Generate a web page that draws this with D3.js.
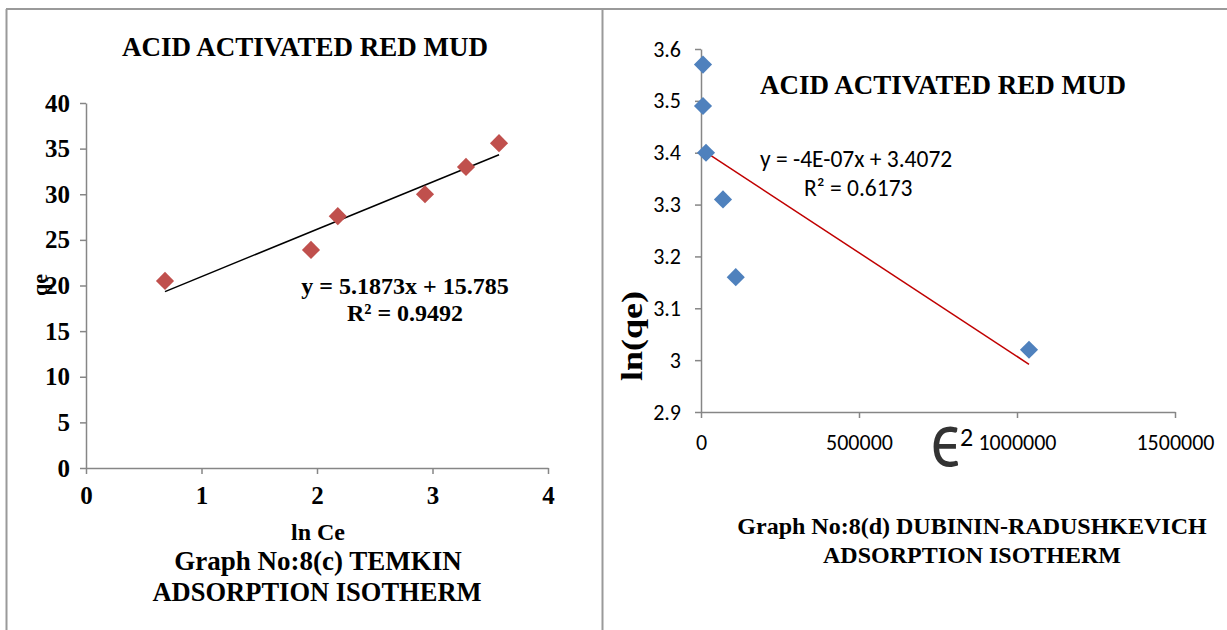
<!DOCTYPE html>
<html><head><meta charset="utf-8">
<script src="https://cdn.jsdelivr.net/npm/d3@7"></script>
<style>
body{margin:0;background:#fff;}
svg{display:block;}
.serif{font-family:"Liberation Serif","Times New Roman",serif;font-weight:bold;fill:#000;}
.sans{font-family:Carlito,Lato,"Open Sans",sans-serif;fill:#000;}
</style></head><body>
<svg id="c" width="1227" height="630"></svg>
<script>
// Left chart: Temkin
const temkinLnCe = [0.684, 1.948, 2.18, 2.935, 3.29, 3.576];
const temkinQe   = [20.5, 23.9, 27.6, 30.0, 33.0, 35.6];
const temkinXTicks = [0, 1, 2, 3, 4];
const temkinYTicks = [0, 5, 10, 15, 20, 25, 30, 35, 40];
const temkinSlope = 5.1873, temkinIntercept = 15.785;

// Right chart: Dubinin-Radushkevich
const drEps2 = [6300, 6300, 15800, 69600, 110000, 1038000];
const drLnQe = [3.57, 3.49, 3.40, 3.31, 3.16, 3.02];
const drXTicks = [0, 500000, 1000000, 1500000];
const drYTicks = [2.9, 3.0, 3.1, 3.2, 3.3, 3.4, 3.5, 3.6];
const drSlope = -4e-7, drIntercept = 3.4072;

const svg = d3.select("#c");
const axisCol = "#868686";

// panel borders
svg.append("line").attr("x1",6).attr("x2",1227).attr("y1",9).attr("y2",9).attr("stroke","#9a9a9a").attr("stroke-width",2);
svg.append("line").attr("x1",6.5).attr("x2",6.5).attr("y1",9).attr("y2",630).attr("stroke","#9a9a9a").attr("stroke-width",2);
svg.append("line").attr("x1",602.5).attr("x2",602.5).attr("y1",9).attr("y2",630).attr("stroke","#9a9a9a").attr("stroke-width",2);

function diamond(g, pts, color, size){
  g.selectAll("path.pt").data(pts).enter().append("path")
   .attr("class","pt")
   .attr("d", d3.symbol().type(d3.symbolDiamond2 || d3.symbolDiamond).size(size))
   .attr("transform", d=>`translate(${d[0]},${d[1]})`)
   .attr("fill", color);
}

// ---------- Left chart ----------
{
  const x = d3.scaleLinear().domain([0,4]).range([86,548]);
  const y = d3.scaleLinear().domain([0,40]).range([468,103]);
  const g = svg.append("g");
  const xa = g.append("g").attr("transform","translate(0,468)")
    .call(d3.axisBottom(x).tickValues(temkinXTicks).tickFormat(d3.format("d")).tickSize(6).tickSizeOuter(0).tickPadding(12));
  const ya = g.append("g").attr("transform","translate(86,0)")
    .call(d3.axisLeft(y).tickValues(temkinYTicks).tickFormat(d3.format("d")).tickSize(6).tickSizeOuter(0).tickPadding(10));
  [xa,ya].forEach(a=>{
    a.select(".domain").attr("stroke",axisCol).attr("stroke-width",1.5);
    a.selectAll(".tick line").attr("stroke",axisCol).attr("stroke-width",1.5);
    a.selectAll("text").attr("class","serif").style("font-size","25px").attr("fill","#000");
  });
  const xmin = d3.min(temkinLnCe), xmax = d3.max(temkinLnCe);
  g.append("line")
    .attr("x1",x(xmin)).attr("y1",y(temkinSlope*xmin+temkinIntercept))
    .attr("x2",x(xmax)).attr("y2",y(temkinSlope*xmax+temkinIntercept))
    .attr("stroke","#000").attr("stroke-width",1.5);
  diamond(g, temkinLnCe.map((v,i)=>[x(v),y(temkinQe[i])]), "#C0504D", 210);

  g.append("text").attr("class","serif").attr("x",305).attr("y",56).attr("text-anchor","middle").style("font-size","27px").text("ACID ACTIVATED RED MUD");
  g.append("text").attr("class","serif").attr("x",405).attr("y",294).attr("text-anchor","middle").style("font-size","24px").text("y = 5.1873x + 15.785");
  g.append("text").attr("class","serif").attr("x",405).attr("y",321).attr("text-anchor","middle").style("font-size","24px").text("R² = 0.9492");
  g.append("text").attr("class","serif").attr("transform","translate(47,285) rotate(-90)").attr("text-anchor","middle").style("font-size","22px").text("qe");
  g.append("text").attr("class","serif").attr("x",318).attr("y",540).attr("text-anchor","middle").style("font-size","24px").text("ln Ce");
  g.append("text").attr("class","serif").attr("x",318).attr("y",570).attr("text-anchor","middle").style("font-size","27px").text("Graph No:8(c) TEMKIN");
  g.append("text").attr("class","serif").attr("x",317).attr("y",601).attr("text-anchor","middle").style("font-size","26.5px").text("ADSORPTION ISOTHERM");
}

// ---------- Right chart ----------
{
  const x = d3.scaleLinear().domain([0,1500000]).range([701,1175]);
  const y = d3.scaleLinear().domain([2.9,3.6]).range([412,49]);
  const g = svg.append("g");
  const xa = g.append("g").attr("transform","translate(0,412)")
    .call(d3.axisBottom(x).tickValues(drXTicks).tickFormat(d3.format("d")).tickSize(6).tickSizeOuter(0).tickPadding(16));
  const ya = g.append("g").attr("transform","translate(701,0)")
    .call(d3.axisLeft(y).tickValues(drYTicks).tickFormat(d=>d3.format("")(+d.toFixed(1))).tickSize(6).tickSizeOuter(0).tickPadding(14));
  [xa,ya].forEach(a=>{
    a.select(".domain").attr("stroke",axisCol).attr("stroke-width",1.5);
    a.selectAll(".tick line").attr("stroke",axisCol).attr("stroke-width",1.5);
    a.selectAll("text").attr("class","sans").style("font-size","22px").attr("fill","#000");
  });
  const xmin = d3.min(drEps2), xmax = d3.max(drEps2);
  g.append("line")
    .attr("x1",x(xmin)).attr("y1",y(drSlope*xmin+drIntercept))
    .attr("x2",x(xmax)).attr("y2",y(drSlope*xmax+drIntercept))
    .attr("stroke","#C00000").attr("stroke-width",1.5);
  diamond(g, drEps2.map((v,i)=>[x(v),y(drLnQe[i])]), "#4F81BD", 210);

  g.append("text").attr("class","serif").attr("x",943).attr("y",94).attr("text-anchor","middle").style("font-size","27px").text("ACID ACTIVATED RED MUD");
  g.append("text").attr("class","sans").attr("x",760).attr("y",167).style("font-size","23.5px").text("y = -4E-07x + 3.4072");
  g.append("text").attr("class","sans").attr("x",804).attr("y",196).style("font-size","23.5px").text("R² = 0.6173");
  g.append("text").attr("class","serif").attr("transform","translate(642,336) rotate(-90)").attr("text-anchor","middle")
    .attr("textLength",90).attr("lengthAdjust","spacingAndGlyphs").style("font-size","30px").text("ln(qe)");
  g.append("text").attr("transform","translate(931,467) scale(1.3,1.6)")
    .style("font-family","Lato, sans-serif").style("font-weight","400").style("font-size","48px").attr("fill","#333").text("ϵ");
  g.append("text").attr("class","sans").attr("x",960).attr("y",446).style("font-size","26px").attr("fill","#333").text("2");
  g.append("text").attr("class","serif").attr("x",972).attr("y",534).attr("text-anchor","middle").style("font-size","24px").text("Graph No:8(d) DUBININ-RADUSHKEVICH");
  g.append("text").attr("class","serif").attr("x",972).attr("y",563).attr("text-anchor","middle").style("font-size","24px").text("ADSORPTION ISOTHERM");
}
</script>
</body></html>
